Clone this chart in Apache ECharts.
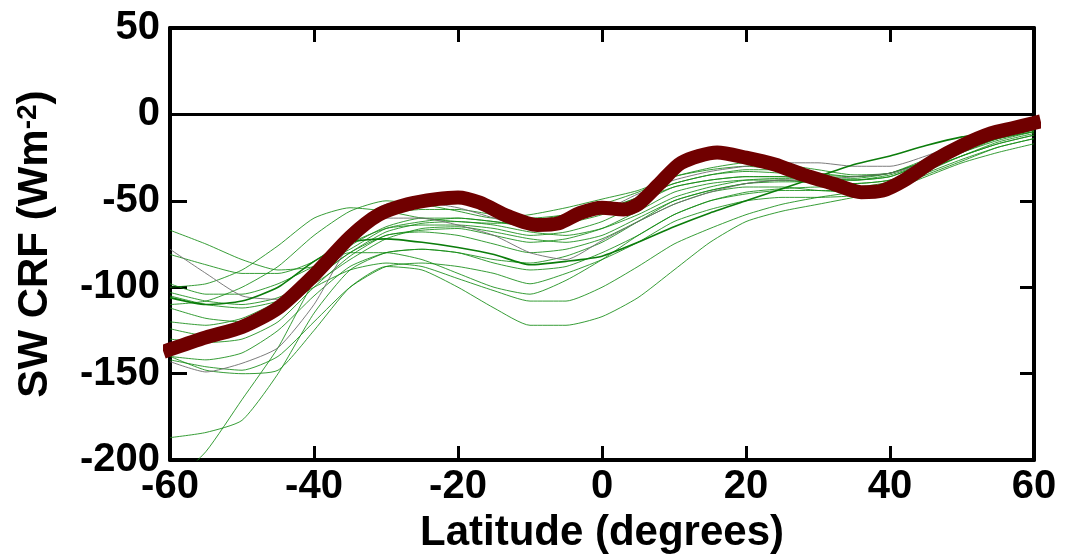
<!DOCTYPE html>
<html>
<head>
<meta charset="utf-8">
<script src="https://cdn.jsdelivr.net/npm/echarts@6/dist/echarts.min.js"></script>
<style>
  html, body { margin: 0; padding: 0; background: #fff; }
  #chart { width: 1065px; height: 559px; }
</style>
</head>
<body>
<div id="chart"></div>
<script>
// latitude grid for the model curves (degrees)
const lat = [-60,-55,-50,-45,-40,-35,-30,-25,-20,-15,-10,-5,0,5,10,15,20,25,30,35,40,45,50,55,60];

// models (thin green), two in grey
const model01 = [-67,-75,-84,-90,-88,-78,-66,-62,-60,-62,-65,-63,-58,-50,-42,-38,-36,-36,-38,-40,-38,-30,-22,-15,-10];
const model02 = [-81,-87,-92,-92,-85,-70,-58,-55,-55,-58,-60,-58,-52,-45,-36,-32,-30,-32,-35,-36,-34,-27,-19,-12,-8];
const model03 = [-103,-108,-110,-106,-95,-80,-68,-63,-62,-64,-68,-70,-66,-58,-48,-42,-38,-37,-37,-38,-36,-28,-20,-13,-9];
const model04 = [-105,-110,-112,-108,-98,-84,-72,-66,-65,-68,-72,-74,-70,-60,-50,-44,-40,-39,-39,-40,-38,-30,-22,-14,-10];
const model05 = [-106,-110,-108,-100,-85,-74,-72,-74,-77,-81,-87,-85,-82,-74,-65,-57,-50,-43,-36,-29,-24,-18,-13,-10,-7];
const model06 = [-120,-122,-118,-108,-92,-76,-65,-60,-60,-62,-64,-62,-56,-48,-40,-35,-33,-34,-36,-37,-34,-26,-18,-12,-8];
const model07 = [-124,-128,-124,-112,-95,-80,-70,-67,-66,-70,-74,-72,-66,-56,-45,-40,-38,-38,-40,-42,-39,-30,-21,-14,-10];
const model08 = [-130,-132,-130,-120,-100,-82,-70,-68,-70,-75,-80,-78,-72,-62,-52,-45,-42,-42,-44,-45,-42,-33,-24,-16,-11];
const model09 = [-140,-142,-138,-125,-105,-88,-80,-78,-80,-86,-90,-88,-80,-70,-58,-50,-46,-44,-44,-44,-40,-32,-24,-17,-12];
const model10 = [-142,-146,-148,-140,-120,-100,-88,-86,-88,-92,-98,-92,-84,-74,-62,-55,-50,-48,-48,-47,-43,-35,-27,-19,-14];
const model11 = [-187,-184,-177,-150,-115,-90,-80,-78,-80,-84,-86,-82,-74,-62,-50,-44,-40,-38,-38,-38,-35,-28,-20,-14,-9];
const model12 = [-215,-195,-165,-135,-97,-75,-66,-64,-64,-66,-70,-68,-62,-52,-42,-38,-36,-36,-37,-38,-36,-28,-20,-13,-9];
const model13 = [-140,-148,-150,-148,-125,-100,-88,-90,-100,-112,-122,-122,-117,-106,-90,-74,-62,-56,-52,-48,-44,-36,-28,-22,-17];
const model14 = [-112,-118,-120,-112,-100,-90,-86,-88,-95,-102,-108,-108,-100,-88,-75,-66,-58,-52,-48,-45,-42,-34,-26,-19,-14];
const model15 = [-98,-104,-104,-98,-88,-80,-80,-84,-92,-100,-104,-96,-84,-70,-58,-50,-45,-43,-42,-42,-40,-32,-24,-17,-12];
const model16 = [-110,-108,-100,-88,-70,-56,-50,-52,-56,-60,-58,-54,-49,-44,-36,-31,-28,-29,-32,-35,-34,-27,-19,-12,-8];
const model17 = [-100,-98,-90,-76,-60,-54,-56,-60,-62,-63,-62,-58,-55,-48,-40,-35,-32,-32,-34,-36,-34,-27,-18,-12,-8];
const modelGrey1 = [-78,-92,-105,-107,-90,-66,-52,-51,-54,-60,-66,-62,-56,-46,-38,-33,-30,-28,-28,-30,-30,-24,-16,-10,-6];
const modelGrey2 = [-143,-149,-144,-135,-110,-75,-60,-60,-64,-70,-80,-84,-73,-62,-52,-45,-40,-38,-38,-36,-34,-28,-20,-13,-8];

// observations (thick dark red)
const obsLat = [-60,-55,-50,-45,-40,-35,-31,-27,-23,-20,-17,-13,-9,-6,-3,0,3,5,8,11,16,20,24,28,32,36,39,42,46,50,54,57,60];
const obsCrf = [-136,-129,-123,-112,-93,-71,-58,-52,-49,-48,-51,-59,-64,-63,-57,-54,-55,-52,-40,-28,-22,-25,-29,-35,-40,-45,-44,-38,-27,-18,-11,-8,-5];

const greenModels = [model01, model02, model03, model04, model06, model07, model08,
  model09, model10, model11, model12, model13, model14, model15, model16, model17];
const greyModels = [modelGrey1, modelGrey2];

const xTicks = { min: -60, max: 60, interval: 20 };
const yTicks = { min: -200, max: 50, interval: 50 };

const toPairs = (xs, ys) => xs.map((x, i) => [x, ys[i]]);

const chart = echarts.init(document.getElementById('chart'));

const thin = (vals, color, width) => ({
  type: 'line',
  data: toPairs(lat, vals),
  symbol: 'none',
  silent: true,
  smooth: 0.2,
  lineStyle: { color: color, width: width },
  z: 2
});

const series = [];
greenModels.forEach(m => series.push(thin(m, 'rgba(20,140,20,0.85)', 1)));
greyModels.forEach(m => series.push(thin(m, 'rgba(110,110,110,0.9)', 1)));
series.push(thin(model05, '#0b7d0b', 1.6));

// zero line
series[0].markLine = {
  silent: true,
  symbol: 'none',
  label: { show: false },
  lineStyle: { color: '#000', width: 3, type: 'solid' },
  data: [{ yAxis: 0 }]
};

series.push({
  type: 'line',
  data: toPairs(obsLat, obsCrf),
  symbol: 'none',
  silent: true,
  clip: false,
  smooth: 0.25,
  lineStyle: { color: '#700000', width: 14, cap: 'square', join: 'round' },
  z: 5
});

const axisLineStyle = { onZero: false, lineStyle: { color: '#000', width: 4 } };
const labelFont = {
  fontFamily: 'Liberation Sans, Arial, sans-serif',
  fontWeight: 'bold',
  fontSize: 40,
  color: '#000'
};
const nameFont = { ...labelFont, fontSize: 42 };

const option = {
  backgroundColor: '#fff',
  animation: false,
  grid: { left: 170, right: 31, top: 28, bottom: 98 },
  xAxis: [
    {
      type: 'value',
      position: 'bottom',
      ...xTicks,
      axisLine: { show: true, ...axisLineStyle },
      axisTick: { show: true, inside: true, length: 14, lineStyle: { color: '#000', width: 3 } },
      axisLabel: { ...labelFont, margin: 7 },
      splitLine: { show: false },
      name: 'Latitude (degrees)',
      nameLocation: 'middle',
      nameGap: 46,
      nameTextStyle: nameFont
    },
    {
      type: 'value',
      position: 'top',
      ...xTicks,
      axisLine: { show: true, ...axisLineStyle },
      axisTick: { show: true, inside: true, length: 14, lineStyle: { color: '#000', width: 3 } },
      axisLabel: { show: false },
      splitLine: { show: false }
    }
  ],
  yAxis: [
    {
      type: 'value',
      position: 'left',
      ...yTicks,
      axisLine: { show: true, ...axisLineStyle },
      axisTick: { show: true, inside: true, length: 17, lineStyle: { color: '#000', width: 3 } },
      axisLabel: { ...labelFont, margin: 10 },
      splitLine: { show: false },
      name: 'SW CRF (Wm{sup|-2})',
      nameLocation: 'middle',
      nameRotate: 90,
      nameGap: 114,
      nameTextStyle: {
        ...nameFont,
        rich: {
          sup: {
            fontFamily: 'Liberation Sans, Arial, sans-serif',
            fontWeight: 'bold',
            fontSize: 28,
            color: '#000',
            verticalAlign: 'top',
            padding: [0, 0, 14, 0]
          }
        }
      }
    },
    {
      type: 'value',
      position: 'right',
      ...yTicks,
      axisLine: { show: true, ...axisLineStyle },
      axisTick: { show: true, inside: true, length: 14, lineStyle: { color: '#000', width: 3 } },
      axisLabel: { show: false },
      splitLine: { show: false }
    }
  ],
  series: series
};

chart.setOption(option);
</script>
</body>
</html>
